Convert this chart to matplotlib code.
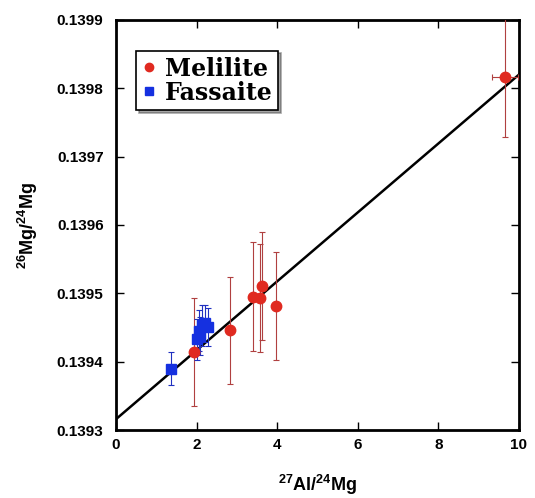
import matplotlib.pyplot as plt
import numpy as np

plt.rcParams["mathtext.fontset"] = "custom"
plt.rcParams["mathtext.bf"] = "Liberation Sans:bold"
plt.rcParams["mathtext.rm"] = "Liberation Sans:bold"

# melilite analyses
mel_x = [1.93, 2.82, 3.41, 3.57, 3.63, 3.96, 9.65]
mel_y = [0.139414, 0.139446, 0.139495, 0.139493, 0.139510, 0.139482, 0.139817]
mel_yerr = [0.000079, 0.000078, 0.000080, 0.000079, 0.000079, 0.000079, 0.000088]
mel_xerr = [0.03, 0.03, 0.03, 0.03, 0.03, 0.03, 0.32]

# fassaite analyses
fas_x = [1.37, 2.01, 2.05, 2.09, 2.13, 2.21, 2.29]
fas_y = [0.139390, 0.139433, 0.139445, 0.139438, 0.139453, 0.139456, 0.139451]
fas_yerr = [0.000024, 0.000030, 0.000030, 0.000028, 0.000030, 0.000027, 0.000028]
fas_xerr = [0.06, 0.05, 0.05, 0.05, 0.05, 0.05, 0.05]

# isochron fit
fit_intercept = 0.139316
fit_slope = 5.04e-5

fig = plt.figure(figsize=(5.35, 4.98), dpi=100)
ax = fig.add_axes([0.217, 0.1365, 0.753, 0.8235])

xs = np.array([0.0, 10.0])
ax.plot(xs, fit_intercept + fit_slope * xs, color="black", linewidth=1.8, zorder=2)

ax.errorbar(mel_x, mel_y, yerr=mel_yerr, xerr=mel_xerr, fmt="none",
            ecolor="#b04040", elinewidth=0.8, capsize=2, capthick=0.8, zorder=3)
ax.errorbar(fas_x, fas_y, yerr=fas_yerr, xerr=fas_xerr, fmt="none",
            ecolor="#2030c0", elinewidth=0.8, capsize=2, capthick=0.8, zorder=3)
ax.plot(mel_x, mel_y, "o", color="#e02a20", markersize=7.5, label="Melilite", zorder=4)
ax.plot(fas_x, fas_y, "s", color="#1530e0", markersize=7, label="Fassaite", zorder=4)

ax.set_xlim(0, 10)
ax.set_ylim(0.1393, 0.1399)
ax.set_xticks(np.arange(0, 11, 2))
ax.set_yticks([0.1393, 0.1394, 0.1395, 0.1396, 0.1397, 0.1398, 0.1399])
ax.set_yticklabels(["0.1393", "0.1394", "0.1395", "0.1396", "0.1397", "0.1398", "0.1399"])
ax.tick_params(direction="in", top=True, right=True, length=6, width=1)
ax.tick_params(axis="x", pad=6)
ax.tick_params(axis="y", pad=9)
for lbl in ax.get_xticklabels() + ax.get_yticklabels():
    lbl.set_fontfamily("Liberation Sans")
    lbl.set_fontweight("bold")
    lbl.set_fontsize(11)
for sp in ax.spines.values():
    sp.set_linewidth(2)

ax.set_xlabel(r"$^{\mathbf{27}}$Al/$^{\mathbf{24}}$Mg", fontfamily="Liberation Sans",
              fontweight="bold", fontsize=13, labelpad=15)
ax.set_ylabel(r"$^{\mathbf{26}}$Mg/$^{\mathbf{24}}$Mg", fontfamily="Liberation Sans",
              fontweight="bold", fontsize=13, labelpad=12)

leg = ax.legend(loc="upper left", bbox_to_anchor=(0.05, 0.925), frameon=True, fancybox=False,
                shadow=True, handlelength=0.6, handletextpad=0.35, labelspacing=0.0,
                borderpad=0.25, borderaxespad=0,
                prop={"family": "DejaVu Serif", "weight": "bold", "size": 17})
leg.get_frame().set_edgecolor("black")
leg.get_frame().set_linewidth(1.2)
for h in leg.legend_handles:
    h.set_markersize(6)

fig.savefig("out.png", dpi=100)
